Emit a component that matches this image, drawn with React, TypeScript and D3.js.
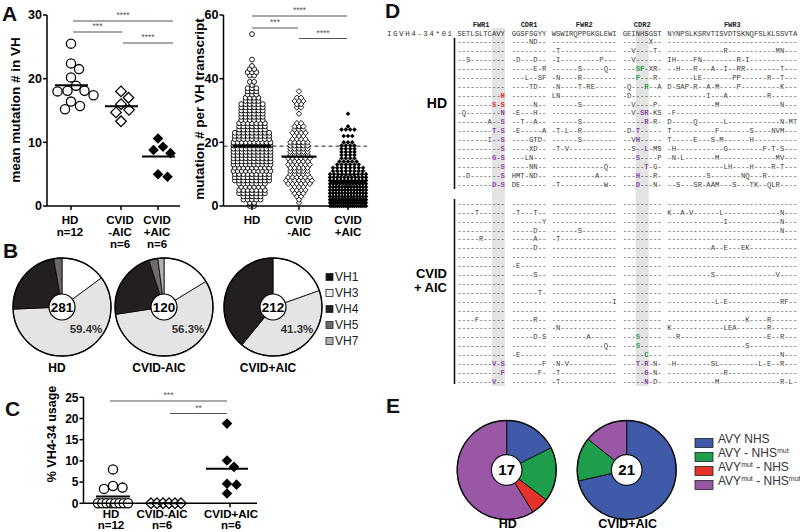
import React from "react";
import * as d3 from "d3";

// ---------------- DATA ----------------
const groups = ["HD", "CVID-AIC", "CVID+AIC"];

// Panel A (left): mean mutation # in VH per donor
const mutMeanHD = [25.5, 22.4, 21.5, 20.2, 18.9, 18.1, 18.1, 18.0, 17.4, 16.4, 15.7, 15.2];
const mutMeanCvidMinus = [18.0, 17.0, 16.0, 15.1, 14.7, 13.3];
const mutMeanCvidPlus = [10.6, 9.3, 8.8, 8.3, 5.0, 4.6];
const aLeftLabels = [["HD", "n=12"], ["CVID", "-AIC", "n=6"], ["CVID", "+AIC", "n=6"]];
const aLeftTicks = [0, 10, 20, 30];
const aLeftSig = ["****", "***", "****"];

// Panel A (right): mutations per VH transcript (value -> number of transcripts)
const hdMutValues = [0, 1, 2, 3, 4, 5, 6, 7, 8, 9, 10, 11, 12, 13, 14, 15, 16, 17, 18, 19, 20, 21, 22, 23, 24, 25, 26, 27, 28, 29, 30, 31, 32, 33, 34, 35, 36, 37, 38, 39, 41, 42, 43, 44, 46, 54];
const hdMutCounts = [2, 2, 5, 5, 7, 7, 6, 7, 9, 9, 9, 10, 9, 10, 10, 10, 10, 10, 10, 10, 10, 9, 9, 9, 7, 7, 7, 6, 6, 6, 6, 6, 6, 4, 4, 3, 3, 3, 1, 2, 2, 3, 2, 1, 1, 1];
const cvidMinusMutValues = [1, 2, 3, 4, 5, 6, 7, 8, 9, 10, 11, 12, 13, 14, 15, 16, 17, 18, 19, 20, 21, 22, 23, 24, 25, 26, 29, 31, 32, 33, 34, 36];
const cvidMinusMutCounts = [1, 1, 2, 3, 4, 3, 6, 7, 6, 5, 5, 5, 6, 5, 6, 5, 5, 5, 5, 5, 4, 3, 4, 3, 3, 2, 1, 2, 2, 3, 2, 1];
const cvidPlusMutValues = [0, 1, 2, 3, 4, 5, 6, 7, 8, 9, 10, 11, 12, 13, 14, 15, 16, 17, 18, 19, 20, 22, 24, 25, 29];
const cvidPlusMutCounts = [20, 20, 17, 13, 13, 13, 13, 12, 11, 11, 10, 8, 8, 6, 5, 4, 4, 4, 4, 4, 3, 3, 4, 1, 1];
const aRightLabels = [["HD"], ["CVID", "-AIC"], ["CVID", "+AIC"]];
const aRightTicks = [0, 20, 40, 60];
const aRightSig = ["****", "***", "****"];

// Panel B: VH family usage (%)
const vhFamilies = ["VH1", "VH3", "VH4", "VH5", "VH7"];
const vhHD = [14.9, 59.4, 23.0, 2.7, 0];
const vhCvidMinus = [16.3, 56.3, 22.4, 3.0, 2.0];
const vhCvidPlus = [19.6, 41.3, 39.1, 0, 0];
const vhTotals = [281, 120, 212];
const vhPieLabels = ["HD", "CVID-AIC", "CVID+AIC"];

// Panel C: % VH4-34 usage
const vh434HD = [8.0, 4.1, 3.7, 3.4, 0, 0, 0, 0, 0, 0, 0, 0];
const vh434CvidMinus = [0, 0, 0, 0, 0, 0];
const vh434CvidPlus = [18.8, 10.1, 8.6, 4.6, 4.4, 2.3];
const cLabels = [["HD", "n=12"], ["CVID-AIC", "n=6"], ["CVID+AIC", "n=6"]];
const cTicks = [0, 5, 10, 15, 20, 25];
const cSig = ["***", "**"];

// Panel D: IGVH4-34 alignment
const regionNames = ["FWR1", "CDR1", "FWR2", "CDR2", "FWR3"];
const germline = ["SETLSLTCAVY", "GGSFSGYY", "WSWIRQPPGKGLEWI", "GEINHSGST", "NYNPSLKSRVTISVDTSKNQFSLKLSSVTA"];
const hdSeqs = [
  "----------- ----ND-- --------------- ------X-- ------------------------------",
  "----------- -------- -T------------- --V----T- -------------R-----------MN---",
  "--S-------- -D---D-- -I---------P--- --V------ IH----FN--------R-I-----------",
  "----------- -----E-R ------S-----Q-- ---SF-XR- --H---R---A--I--RR--------T---",
  "----------- ---L--SF -N----R-------- ---F---R- ------LE-------PP------R--T---",
  "----------- ----TD-- -N----T-RE----- -Q---R--A D-SAP-R--A-M----P---------K---",
  "----------H -------- LN------------- -D------- ---------I---A---------R------",
  "--------S-S -----N-- ------S-------- --V----P- -----------M--------------N---",
  "-Q--------N -E---H-- --------------- --V-SR-KS -F----------------------------",
  "-------A--S --T--A-- ------S-------- -----R-R- D-----Q------L------------N-MT",
  "--------T-S -E-----A -T-L--R-------- -D-T----- T----------F-------S----NVM---",
  "-------I--S ----GTD- ------S-------- --VH----- T-----E---S-M------H----------",
  "----------S ----XD-- -T-V----------- --S--L-MS -H-----------G--------F-T-S---",
  "--------G-S ---LN--- --------------- ---S----P -N-L-------M-------------MV---",
  "----------S ----NN-- ------------Q-- -----T-G- -------------LH----H----R-T---",
  "--D-------S HMT-ND-- ----------A---- ---H---R- ---------S-------NQ---R-------",
  "--------D-S DE------ -T----------W-- ---D---N- --S---SR-AAM---S---TK--QLR----",
];
const cvidSeqs = [
  "----------- -------- --------------- --------- ------------------------------",
  "----T------ -T---T-- --------------- --------- K--A-V------L-------------N---",
  "----------- -------Y --------------- --------- -------------I------------N---",
  "----------- -----D-- ------S-------- --------- --------------------------N---",
  "-----R----- -----A-- -T------------- --------- ------------------------------",
  "----------- -----D-- --------------- --------- ----------A--E---EK-----------",
  "----------- -------- --------------- --------- ------------------------------",
  "----------- -E------ --------------- --------- ------------------------------",
  "----------- -----S-- --------------- --------- ----------S--------------V----",
  "----------- -------- --------------- --------- ------------------------------",
  "----------- ------T- --------------- --------- ------------------------------",
  "----------- -------- --------------I --------- -----------L-E------------RF--",
  "----------- -------- --------------- --------- ------------------------------",
  "----F------ -----R-- --------------- --------- ------------------K----R------",
  "----------- -------- -N------------- --------- K------------LEA-------R------",
  "----------- -----D-S --------A------ ---S----- --R--------------------E--R---",
  "----------- -------- ------------Q-- ---S----- ------------------S-----------",
  "----------- -E------ --------------- -----C--- --------------------------N---",
  "--------V-S -------F -N-V----------- ---T-R-N- -H--------SL---------L-E--R---",
  "----------F ------F- -T------------- -----G-N- -------------R----------------",
  "--------V-- -------- -T------------- -----N-D- -----------M--------------R-L-",
];

// Panel E: AVY / NHS motif status
const motifLabels = [
  [{ t: "AVY NHS" }],
  [{ t: "AVY - NHS" }, { t: "mut", sup: true }],
  [{ t: "AVY" }, { t: "mut", sup: true }, { t: " - NHS" }],
  [{ t: "AVY" }, { t: "mut", sup: true }, { t: " - NHS" }, { t: "mut", sup: true }],
];
const motifHD = [3, 3, 1, 10];
const motifCvidPlus = [15, 3, 0, 3];
const motifPieLabels = ["HD", "CVID+AIC"];

// ---------------- STYLE ----------------
const FONT = "'Liberation Sans', Arial, Helvetica, sans-serif";
const MONO = "'Liberation Mono', 'Courier New', monospace";
const RED = "#e8262b";
const PURPLE = "#8b45a8";
const GREEN = "#1f9e48";
const pieFillB = ["#ffffff", "#e4e4e4", "#231f20", "#6b6b6b", "#b3b3b3"];
const legendFillB = ["#111111", "#eeeeee", "#231f20", "#6b6b6b", "#b3b3b3"];
const motifColors = ["#3f5aa9", "#1e9e4a", "#e5322a", "#9a57a5"];

const diamond = (h: number) => `M0,${-h}L${h},0L0,${h}L${-h},0Z`;

// swarm placement for scatter columns
function swarm(values: number[], y: (v: number) => number, D: number, rowMin: number, rowWidth: number) {
  const counts = d3.rollup(values, (v) => v.length, (d) => d);
  const placed: { v: number; dx: number; py: number }[] = [];
  counts.forEach((c, v) => {
    if (c >= rowMin) {
      const s = Math.min(D, rowWidth / (c - 1));
      for (let i = 0; i < c; i++) placed.push({ v, dx: (i - (c - 1) / 2) * s, py: y(v) });
    }
  });
  values.forEach((v) => {
    if ((counts.get(v) ?? 0) >= rowMin) return;
    const py = y(v);
    let dx = 0;
    for (let k = 0; k < 400; k++) {
      const cand = k === 0 ? 0 : (k % 2 ? 1 : -1) * Math.ceil(k / 2) * 0.5;
      if (placed.every((p) => Math.hypot(p.dx - cand, p.py - py) >= D)) {
        dx = cand;
        break;
      }
    }
    placed.push({ v, dx, py });
  });
  return placed;
}

function rowsLayout(vals: number[], counts: number[], maxSpacing: number, width: number) {
  const out: { v: number; dx: number }[] = [];
  vals.forEach((v, j) => {
    const c = counts[j];
    const s = c > 1 ? Math.min(maxSpacing, width / (c - 1)) : 0;
    for (let i = 0; i < c; i++) out.push({ v, dx: (i - (c - 1) / 2) * s });
  });
  return out;
}

function Marker({ kind, x, y, size }: { kind: number; x: number; y: number; size: number }) {
  if (kind === 0) return <circle cx={x} cy={y} r={size} fill="#fff" stroke="#000" strokeWidth={size > 3 ? 1.3 : 0.9} />;
  if (kind === 1)
    return <path transform={`translate(${x},${y})`} d={diamond(size * 1.15)} fill="#fff" stroke="#000" strokeWidth={size > 3 ? 1.3 : 0.9} />;
  return <path transform={`translate(${x},${y})`} d={diamond(size * (size > 3 ? 1.15 : 1.0))} fill="#000" />;
}

function SigBar({ x1, x2, y, label }: { x1: number; x2: number; y: number; label: string }) {
  return (
    <g>
      <line x1={x1} x2={x2} y1={y} y2={y} stroke="#555" strokeWidth={1} />
      <text x={(x1 + x2) / 2} y={y - 3} textAnchor="middle" fontSize={8.5} fill="#555">
        {label}
      </text>
    </g>
  );
}

function PanelLetter({ x, y, t }: { x: number; y: number; t: string }) {
  return (
    <text x={x} y={y} fontSize={21} fontWeight="bold" fill="#111">
      {t}
    </text>
  );
}

// ---------------- PANEL A LEFT ----------------
function PanelALeft() {
  const y = d3.scaleLinear().domain([0, 30]).range([206, 15]);
  const x = d3.scaleOrdinal<string, number>().domain(groups).range([71, 121, 158]);
  const sets = [mutMeanHD, mutMeanCvidMinus, mutMeanCvidPlus];
  const axX = 47;
  const sig = [
    { x1: 73, x2: 173, y: 21 },
    { x1: 73, x2: 122, y: 32 },
    { x1: 123, x2: 173, y: 43 },
  ];
  return (
    <g>
      <PanelLetter x={2} y={21} t="A" />
      {sets.map((vals, gi) => {
        const pts = swarm(vals, y, 9.6, 99, 30);
        const g = groups[gi];
        return (
          <g key={g}>
            {pts.map((p, i) => (
              <Marker key={i} kind={gi} x={x(g) + p.dx} y={p.py} size={4.6} />
            ))}
            <line x1={x(g) - 16} x2={x(g) + 17} y1={y(d3.mean(vals)!)} y2={y(d3.mean(vals)!)} stroke="#000" strokeWidth={2} />
          </g>
        );
      })}
      <line x1={axX} x2={axX} y1={y(30)} y2={y(0)} stroke="#000" strokeWidth={1.5} />
      <line x1={axX} x2={180} y1={y(0)} y2={y(0)} stroke="#000" strokeWidth={1.5} />
      {aLeftTicks.map((t) => (
        <g key={t}>
          <line x1={axX - 4} x2={axX} y1={y(t)} y2={y(t)} stroke="#000" strokeWidth={1.5} />
          <text x={axX - 5} y={y(t)} dy="0.35em" textAnchor="end" fontSize={12.5} fontWeight="bold">
            {t}
          </text>
        </g>
      ))}
      {groups.map((g, gi) => (
        <g key={g}>
          <line x1={x(g)} x2={x(g)} y1={y(0)} y2={y(0) + 4} stroke="#000" strokeWidth={1.5} />
          {aLeftLabels[gi].map((l, li) => (
            <text key={li} x={x(g) - 1} y={220 + li * 12} dy="0.35em" textAnchor="middle" fontSize={11.5} fontWeight="bold">
              {l}
            </text>
          ))}
        </g>
      ))}
      <text transform="translate(15,110) rotate(-90)" textAnchor="middle" dy="0.35em" fontSize={13.5} fontWeight="bold">
        mean mutation # in VH
      </text>
      {sig.map((s, i) => (
        <SigBar key={i} {...s} label={aLeftSig[i]} />
      ))}
    </g>
  );
}

// ---------------- PANEL A RIGHT ----------------
function PanelARight() {
  const y = d3.scaleLinear().domain([0, 60]).range([206, 15]);
  const x = d3.scaleOrdinal<string, number>().domain(groups).range([252, 299, 348]);
  const axX = 223.5;
  const sets = [
    { v: hdMutValues, c: hdMutCounts, w: 37, hw: 19.5 },
    { v: cvidMinusMutValues, c: cvidMinusMutCounts, w: 33, hw: 17.5 },
    { v: cvidPlusMutValues, c: cvidPlusMutCounts, w: 36, hw: 19 },
  ];
  const means = sets.map((s) => d3.sum(s.v.map((v, j) => v * s.c[j])) / d3.sum(s.c));
  const sig = [
    { x1: 252, x2: 347, y: 16 },
    { x1: 252, x2: 298, y: 28 },
    { x1: 299, x2: 347, y: 38.5 },
  ];
  return (
    <g>
      <line x1={axX} x2={367} y1={y(means[0])} y2={y(means[0])} stroke="#222" strokeWidth={1} strokeDasharray="4,3" />
      {sets.map((s, gi) => {
        const g = groups[gi];
        const pts = rowsLayout(s.v, s.c, 4.3, s.w);
        return (
          <g key={g}>
            {pts.map((p, i) => (
              <Marker key={i} kind={gi} x={x(g) + p.dx} y={y(p.v)} size={gi === 2 ? 2.3 : 2.4} />
            ))}
            <line x1={x(g) - s.hw} x2={x(g) + s.hw} y1={y(means[gi])} y2={y(means[gi])} stroke="#000" strokeWidth={2.2} />
          </g>
        );
      })}
      <line x1={axX} x2={axX} y1={y(60)} y2={y(0)} stroke="#000" strokeWidth={1.5} />
      <line x1={axX} x2={367} y1={y(0)} y2={y(0)} stroke="#000" strokeWidth={1.5} />
      {aRightTicks.map((t) => (
        <g key={t}>
          <line x1={axX - 4} x2={axX} y1={y(t)} y2={y(t)} stroke="#000" strokeWidth={1.5} />
          <text x={axX - 5} y={y(t)} dy="0.35em" textAnchor="end" fontSize={12.5} fontWeight="bold">
            {t}
          </text>
        </g>
      ))}
      {groups.map((g, gi) => (
        <g key={g}>
          <line x1={x(g)} x2={x(g)} y1={y(0)} y2={y(0) + 4} stroke="#000" strokeWidth={1.5} />
          {aRightLabels[gi].map((l, li) => (
            <text key={li} x={x(g)} y={220 + li * 12} dy="0.35em" textAnchor="middle" fontSize={11.5} fontWeight="bold">
              {l}
            </text>
          ))}
        </g>
      ))}
      <text transform="translate(199,109) rotate(-90)" textAnchor="middle" dy="0.35em" fontSize={13.5} fontWeight="bold">
        mutation # per VH transcript
      </text>
      {sig.map((s, i) => (
        <SigBar key={i} {...s} label={aRightSig[i]} />
      ))}
    </g>
  );
}

// ---------------- PANEL B ----------------
function PanelB() {
  const centers = [62, 164, 273];
  const cy = 307;
  const r = 49;
  const data = [vhHD, vhCvidMinus, vhCvidPlus];
  const pie = d3.pie<number>().sort(null).value((d) => d);
  const arc = d3.arc<d3.PieArcDatum<number>>().innerRadius(0).outerRadius(r);
  return (
    <g>
      <PanelLetter x={3} y={258} t="B" />
      {data.map((d, i) => (
        <g key={i} transform={`translate(${centers[i]},${cy})`}>
          {pie(d).map((a, j) =>
            a.value > 0 ? <path key={j} d={arc(a)!} fill={pieFillB[j]} stroke="#000" strokeWidth={0.8} /> : null
          )}
          <circle r={r} fill="none" stroke="#000" strokeWidth={1.4} />
          <circle r={13} fill="#fff" stroke="#000" strokeWidth={1.2} />
          <text textAnchor="middle" dy="0.36em" fontSize={13.5} fontWeight="bold">
            {vhTotals[i]}
          </text>
          <text x={24} y={22} textAnchor="middle" dy="0.35em" fontSize={11.5} fontWeight="bold" fill="#333">
            {`${d[1].toFixed(1)}%`}
          </text>
        </g>
      ))}
      {vhPieLabels.map((l, i) => (
        <text key={l} x={centers[i] - 5} y={368} dy="0.35em" textAnchor="middle" fontSize={12} fontWeight="bold">
          {l}
        </text>
      ))}
      {vhFamilies.map((f, i) => (
        <g key={f} transform={`translate(326,${277 + i * 16})`}>
          <rect x={0} y={-3.5} width={7} height={7} fill={legendFillB[i]} stroke="#222" strokeWidth={0.8} />
          <text x={9} y={0} dy="0.36em" fontSize={12} fill="#222">
            {f}
          </text>
        </g>
      ))}
    </g>
  );
}

// ---------------- PANEL C ----------------
function PanelC() {
  const y = d3.scaleLinear().domain([0, 25]).range([503.3, 397.3]);
  const x = d3.scaleOrdinal<string, number>().domain(groups).range([113, 166, 227]);
  const labelX = [111, 162, 231];
  const axX = 83.5;
  const sets = [vh434HD, vh434CvidMinus, vh434CvidPlus];
  const halfW = [17, 17, 21];
  const sig = [
    { x1: 110, x2: 227, y: 401 },
    { x1: 170, x2: 227, y: 413.5 },
  ];
  return (
    <g>
      <PanelLetter x={5} y={416} t="C" />
      {sets.map((vals, gi) => {
        const g = groups[gi];
        const pts = swarm(vals, y, 9.4, 4, 30);
        const m = d3.mean(vals)!;
        return (
          <g key={g}>
            {pts.map((p, i) => (
              <Marker key={i} kind={gi} x={x(g) + p.dx} y={p.py} size={4.6} />
            ))}
            <line x1={x(g) - halfW[gi]} x2={x(g) + halfW[gi]} y1={y(m)} y2={y(m)} stroke="#000" strokeWidth={2} />
          </g>
        );
      })}
      <line x1={axX} x2={axX} y1={y(25)} y2={y(0)} stroke="#000" strokeWidth={1.5} />
      <line x1={axX} x2={257} y1={y(0)} y2={y(0)} stroke="#000" strokeWidth={1.5} />
      {cTicks.map((t) => (
        <g key={t}>
          <line x1={axX - 4} x2={axX} y1={y(t)} y2={y(t)} stroke="#000" strokeWidth={1.5} />
          <text x={axX - 5} y={y(t)} dy="0.35em" textAnchor="end" fontSize={12} fontWeight="bold">
            {t}
          </text>
        </g>
      ))}
      {groups.map((g, gi) => (
        <g key={g}>
          <line x1={labelX[gi] - 1} x2={labelX[gi] - 1} y1={y(0)} y2={y(0) + 4} stroke="#000" strokeWidth={1.5} />
          {cLabels[gi].map((l, li) => (
            <text key={li} x={labelX[gi]} y={513.5 + li * 11} dy="0.35em" textAnchor="middle" fontSize={11.5} fontWeight="bold">
              {l}
            </text>
          ))}
        </g>
      ))}
      <text transform="translate(52,434) rotate(-90)" textAnchor="middle" dy="0.35em" fontSize={12.5} fontWeight="bold">
        % VH4-34 usage
      </text>
      {sig.map((s, i) => (
        <SigBar key={i} {...s} label={cSig[i]} />
      ))}
    </g>
  );
}

// ---------------- PANEL D ----------------
const segStart = [457.3, 511.7, 551.7, 622.7, 667.3];
const CW = 4.333;

function SeqRow({ row, y }: { row: string; y: number }) {
  const segs = row.split(" ").map((s, i) => s.padEnd(germline[i].length, "-").slice(0, germline[i].length));
  const avyMut = segs[0].slice(8, 11).replace(/-/g, "").length > 0;
  const nhsMut = segs[3].slice(3, 6).replace(/-/g, "").length > 0;
  const hot = avyMut && nhsMut ? PURPLE : nhsMut ? GREEN : RED;
  return (
    <g>
      {segs.map((s, i) => {
        const parts: { t: string; c: string; hot: boolean }[] = [];
        s.split("").forEach((ch, k) => {
          const isHot = ch !== "-" && ((i === 0 && k >= 8 && k <= 10) || (i === 3 && k >= 3 && k <= 5));
          const c = isHot ? hot : "#3a3a3a";
          const last = parts[parts.length - 1];
          if (last && last.c === c) last.t += ch;
          else parts.push({ t: ch, c, hot: isHot });
        });
        return (
          <text
            key={i}
            x={segStart[i]}
            y={y}
            dy="0.35em"
            fontSize={7.22}
            fontFamily={MONO}
            textLength={s.length * CW}
            lengthAdjust="spacing"
            style={{ whiteSpace: "pre" }}
          >
            {parts.map((p, j) => (
              <tspan key={j} fill={p.c} fontWeight={p.hot ? "bold" : "normal"}>
                {p.t}
              </tspan>
            ))}
          </text>
        );
      })}
    </g>
  );
}

function PanelD() {
  const rowH = 8.9;
  const hdY0 = 41.7;
  const cvY0 = 203.3;
  const avyX = segStart[0] + 8 * CW;
  const nhsX = segStart[3] + 3 * CW;
  return (
    <g>
      <PanelLetter x={385} y={18} t="D" />
      <rect x={avyX} y={28} width={3 * CW} height={358} fill="#e3e3e3" />
      <rect x={nhsX} y={28} width={3 * CW} height={358} fill="#e3e3e3" />
      {regionNames.map((n, i) => (
        <text
          key={n}
          x={segStart[i] + (germline[i].length * CW) / 2}
          y={25}
          dy="0.35em"
          textAnchor="middle"
          fontSize={7}
          fontFamily={MONO}
          fontWeight="bold"
          fill="#222"
        >
          {n}
        </text>
      ))}
      <text x={387} y={33.3} dy="0.35em" fontSize={7.5} fontFamily={MONO} fill="#333" textLength={65} lengthAdjust="spacing">
        IGVH4-34*01
      </text>
      {germline.map((g, i) => (
        <text
          key={i}
          x={segStart[i]}
          y={33.3}
          dy="0.35em"
          fontSize={7.22}
          fontFamily={MONO}
          fill="#333"
          textLength={g.length * CW}
          lengthAdjust="spacing"
        >
          {g}
        </text>
      ))}
      {hdSeqs.map((r, i) => (
        <SeqRow key={`h${i}`} row={r} y={hdY0 + i * rowH} />
      ))}
      {cvidSeqs.map((r, i) => (
        <SeqRow key={`c${i}`} row={r} y={cvY0 + i * rowH} />
      ))}
      <line x1={454.5} x2={454.5} y1={38} y2={189} stroke="#111" strokeWidth={1.6} />
      <line x1={454.5} x2={454.5} y1={199} y2={384} stroke="#111" strokeWidth={1.6} />
      <text x={447} y={103} dy="0.35em" textAnchor="end" fontSize={14} fontWeight="bold">
        HD
      </text>
      <text x={447} y={273.5} dy="0.35em" textAnchor="end" fontSize={13} fontWeight="bold">
        CVID
      </text>
      <text x={447} y={287} dy="0.35em" textAnchor="end" fontSize={13} fontWeight="bold">
        + AIC
      </text>
    </g>
  );
}

// ---------------- PANEL E ----------------
function PanelE() {
  const centers = [506.7, 626.7];
  const cy = 470;
  const r = 49.5;
  const data = [motifHD, motifCvidPlus];
  const pie = d3.pie<number>().sort(null).value((d) => d);
  const arc = d3.arc<d3.PieArcDatum<number>>().innerRadius(0).outerRadius(r);
  return (
    <g>
      <PanelLetter x={386} y={413} t="E" />
      {data.map((d, i) => (
        <g key={i} transform={`translate(${centers[i]},${cy})`}>
          {pie(d).map((a, j) =>
            a.value > 0 ? <path key={j} d={arc(a)!} fill={motifColors[j]} stroke="#111" strokeWidth={1} /> : null
          )}
          <circle r={r} fill="none" stroke="#111" strokeWidth={1.4} />
          <circle r={15.3} fill="#fff" stroke="#111" strokeWidth={1.2} />
          <text textAnchor="middle" dy="0.36em" fontSize={15} fontWeight="bold">
            {d3.sum(d)}
          </text>
        </g>
      ))}
      {motifPieLabels.map((l, i) => (
        <text key={l} x={centers[i] + 1} y={524} dy="0.35em" textAnchor="middle" fontSize={12.5} fontWeight="bold">
          {l}
        </text>
      ))}
      {motifLabels.map((parts, i) => (
        <g key={i} transform={`translate(695,${443 + i * 14})`}>
          <rect x={0} y={-4.5} width={18} height={9} fill={motifColors[i]} stroke="#222" strokeWidth={0.8} />
          <text x={23} y={0} dy="0.36em" fontSize={12} fill="#333">
            {parts.map((p, j) =>
              p.sup ? (
                <tspan key={j} fontSize={7} dy={-4}>
                  {p.t}
                </tspan>
              ) : (
                <tspan key={j} dy={j > 0 && parts[j - 1].sup ? 4 : 0}>
                  {p.t}
                </tspan>
              )
            )}
          </text>
        </g>
      ))}
    </g>
  );
}

export default function App() {
  return (
    <svg
      width={800}
      height={532}
      viewBox="0 0 800 532"
      style={{ position: "absolute", left: 0, top: 0, background: "#fff" }}
      fontFamily={FONT}
    >
      <rect width={800} height={532} fill="#fff" />
      <PanelALeft />
      <PanelARight />
      <PanelB />
      <PanelC />
      <PanelD />
      <PanelE />
    </svg>
  );
}
